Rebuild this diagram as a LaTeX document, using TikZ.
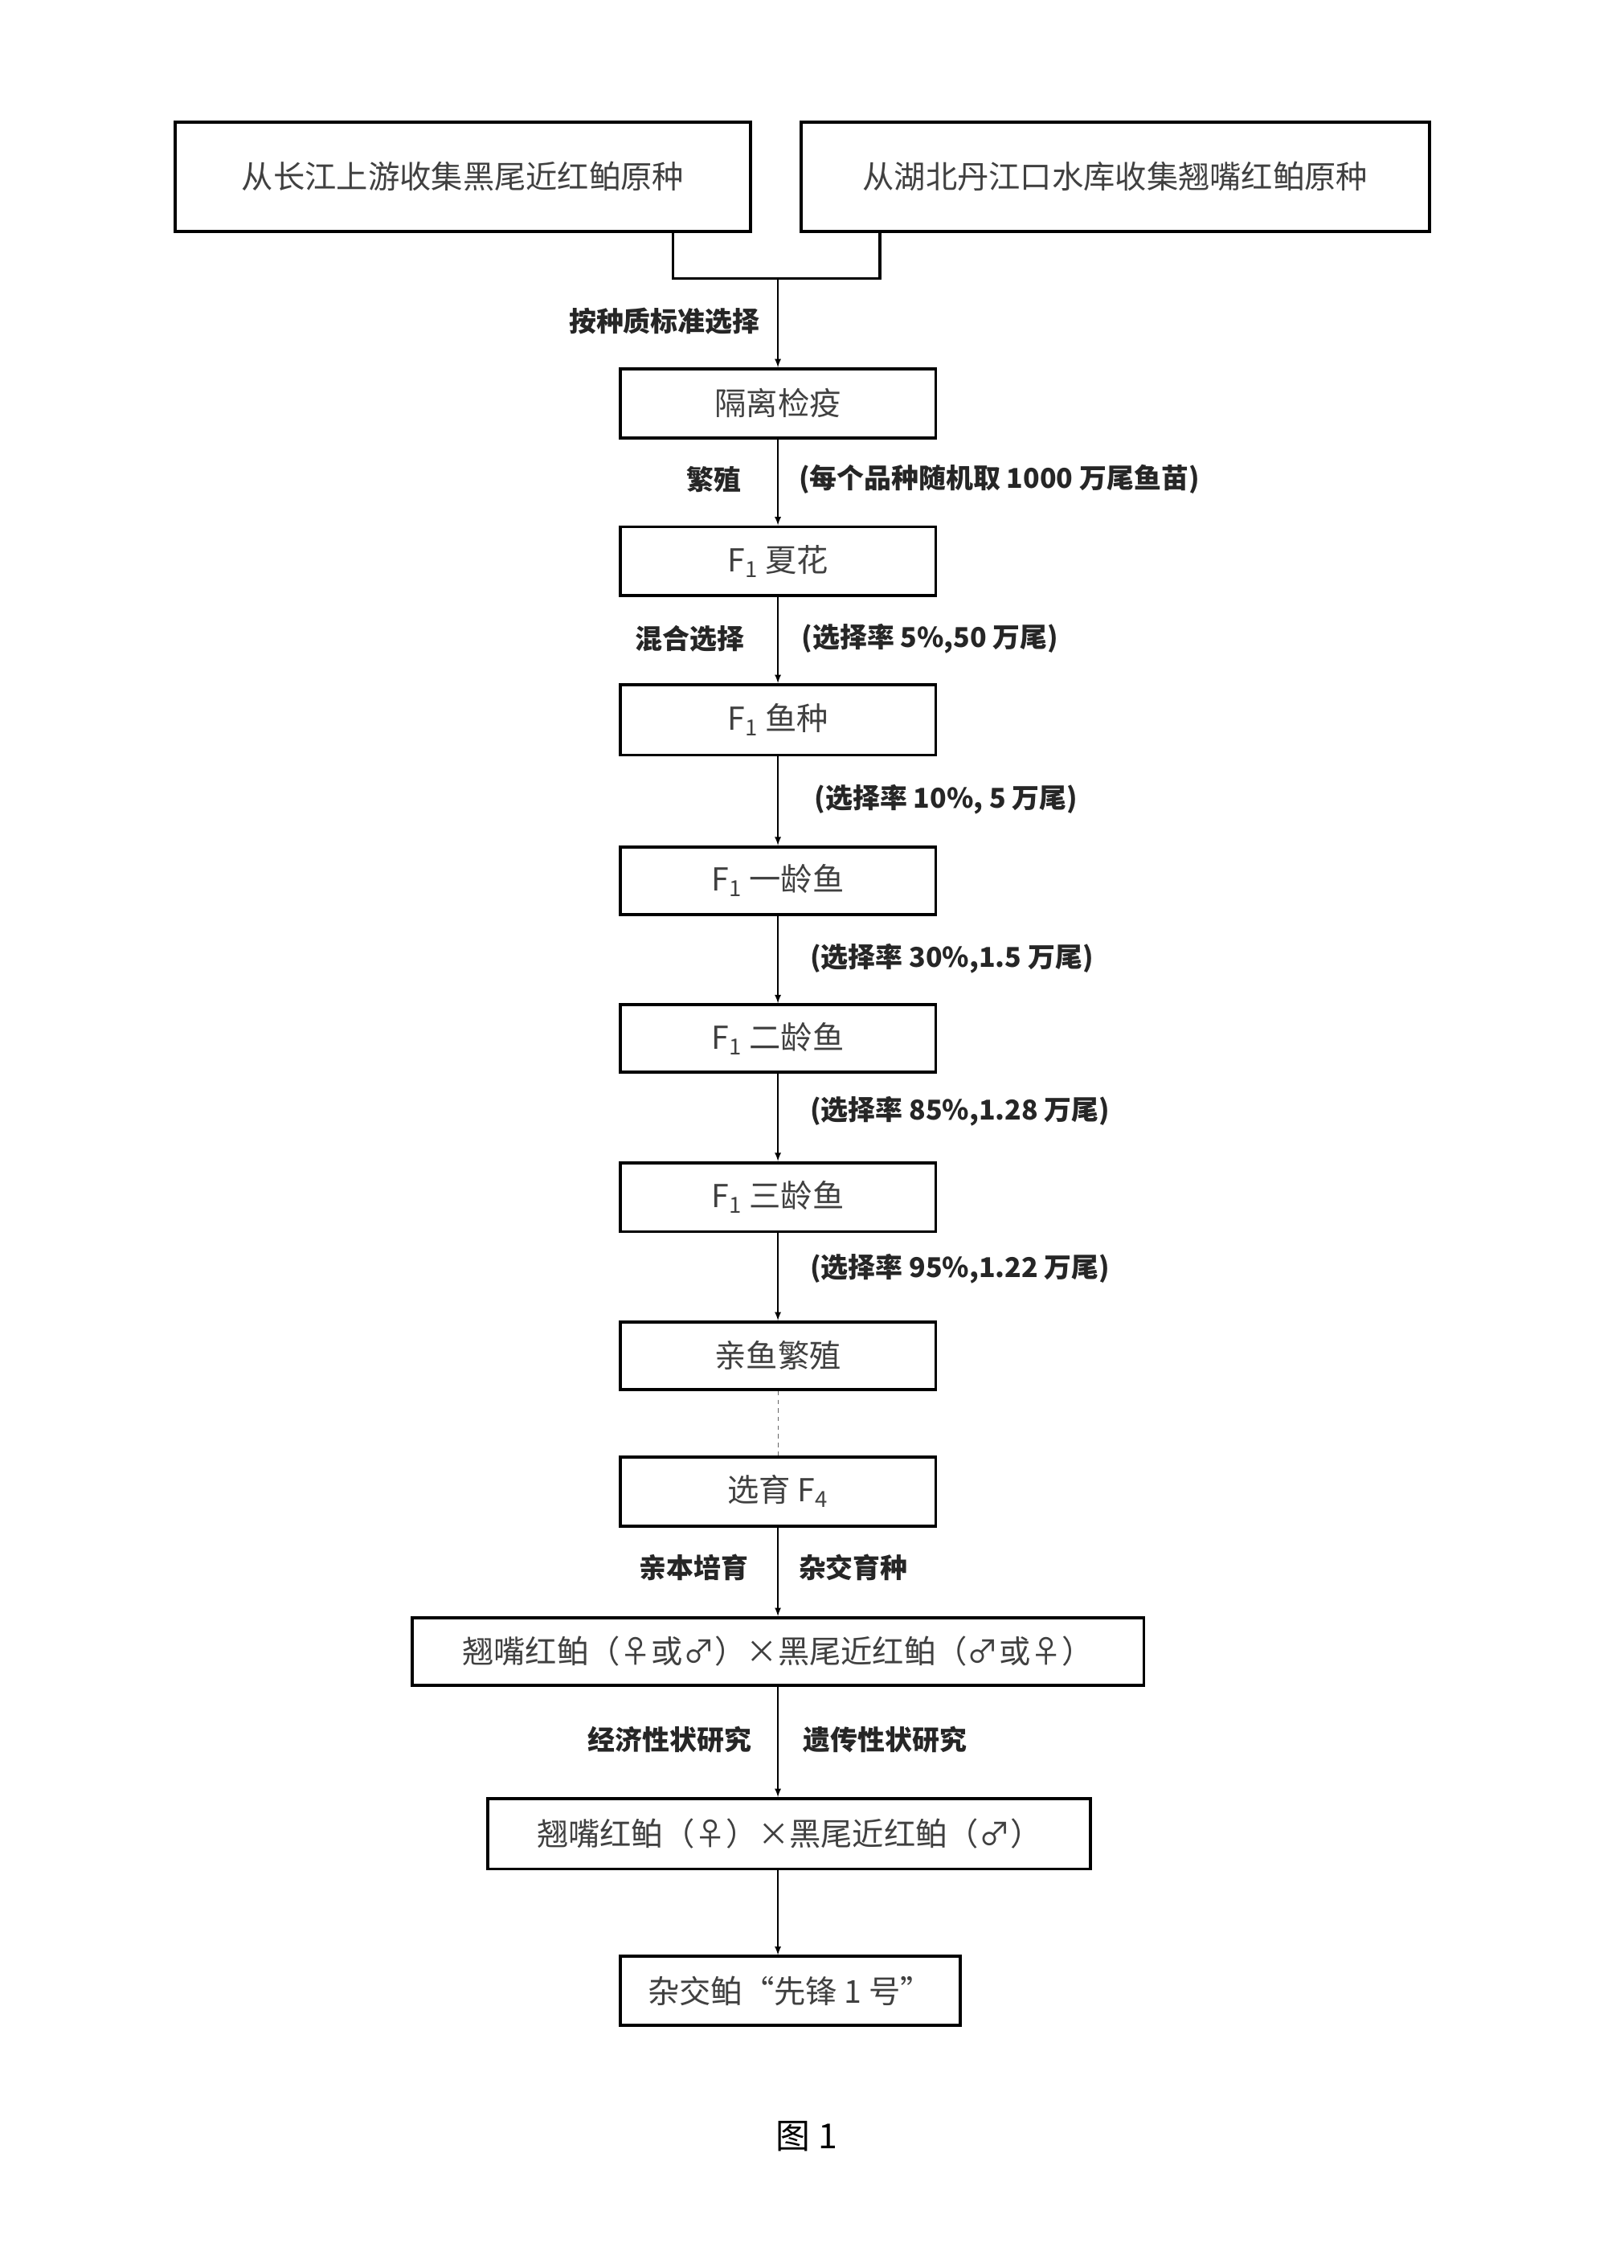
\documentclass[tikz,border=0pt]{standalone}
\usepackage{fontspec}
\setmainfont{Noto Sans CJK SC}
\begin{document}
\begin{tikzpicture}[x=1pt,y=-1pt,
 bx/.style={draw,line width=2.2pt,inner sep=0pt,font=\fontsize{22}{24}\selectfont,text=black!75},
 lb/.style={font=\fontsize{19}{21}\selectfont\bfseries,text=black!85},
 ar/.style={-latex,line width=1pt}]
\useasboundingbox (0,0) rectangle (1131,1580);
\fill[white] (0,0) rectangle (1131,1580);
\newcommand{\bxn}[6]{\node[bx,minimum width=#4-#3,minimum height=#6-#5] (#1) at ({(#3+#4)/2},{(#5+#6)/2}) {#2};}
\bxn{a}{从长江上游收集黑尾近红鲌原种}{122}{523}{85}{161}
\bxn{b}{从湖北丹江口水库收集翘嘴红鲌原种}{558}{996}{85}{161}
\bxn{c}{隔离检疫}{432}{652}{257}{305}
\bxn{d}{F\textsubscript{1} 夏花}{432}{652}{367}{415}
\bxn{e}{F\textsubscript{1} 鱼种}{432}{652}{477}{526}
\bxn{f}{F\textsubscript{1} 一龄鱼}{432}{652}{590}{637}
\bxn{g}{F\textsubscript{1} 二龄鱼}{432}{652}{700}{747}
\bxn{h}{F\textsubscript{1} 三龄鱼}{432}{652}{810}{858}
\bxn{i}{亲鱼繁殖}{432}{652}{921}{968}
\bxn{j}{选育 F\textsubscript{4}}{432}{652}{1015}{1063}
\bxn{k}{翘嘴红鲌（♀或♂）×黑尾近红鲌（♂或♀）}{287}{797}{1127}{1174}
\bxn{l}{翘嘴红鲌（♀）×黑尾近红鲌（♂）}{340}{760}{1253}{1302}
\bxn{m}{杂交鲌“先锋 1 号”}{432}{669}{1363}{1411}
\coordinate (ja) at (469,194);
\coordinate (jb) at (613,194);
\coordinate (jm) at (542,194);
\draw[line width=2pt] (469,161) -- (ja) -- (jb) -- (613,161);
\draw[ar] (jm) -- (c.north);
\draw[ar] (c) -- (d); \draw[ar] (d) -- (e); \draw[ar] (e) -- (f);
\draw[ar] (f) -- (g); \draw[ar] (g) -- (h); \draw[ar] (h) -- (i);
\draw[dashed,line width=0.6pt,black!60] (i) -- (j);
\draw[ar] (j) -- (k);
\draw[ar] (k.south) -- (k.south |- l.north);
\draw[ar] (k.south |- l.south) -- (k.south |- m.north);
\node[lb,anchor=east] (t1) at (533,224) {按种质标准选择};
\node[lb,anchor=east] (t2) at (520,334) {繁殖};
\node[lb,anchor=west] (t3) at (553,334) {(每个品种随机取 1000 万尾鱼苗)};
\node[lb,anchor=east] (t4) at (522,445) {混合选择};
\node[lb,anchor=west] (t5) at (555,445) {(选择率 5\%,50 万尾)};
\node[lb,anchor=west] (t6) at (564,557) {(选择率 10\%, 5 万尾)};
\node[lb,anchor=west] (t7) at (561,668) {(选择率 30\%,1.5 万尾)};
\node[lb,anchor=west] (t8) at (561,774) {(选择率 85\%,1.28 万尾)};
\node[lb,anchor=west] (t9) at (561,884) {(选择率 95\%,1.22 万尾)};
\node[lb,anchor=east] (t10) at (525,1092) {亲本培育};
\node[lb,anchor=west] (t11) at (553,1092) {杂交育种};
\node[lb,anchor=east] (t12) at (527,1212) {经济性状研究};
\node[lb,anchor=west] (t13) at (556,1212) {遗传性状研究};
\node[font=\fontsize{24}{26}\selectfont] (cap) at (562,1488) {图 1};
\end{tikzpicture}
\end{document}
